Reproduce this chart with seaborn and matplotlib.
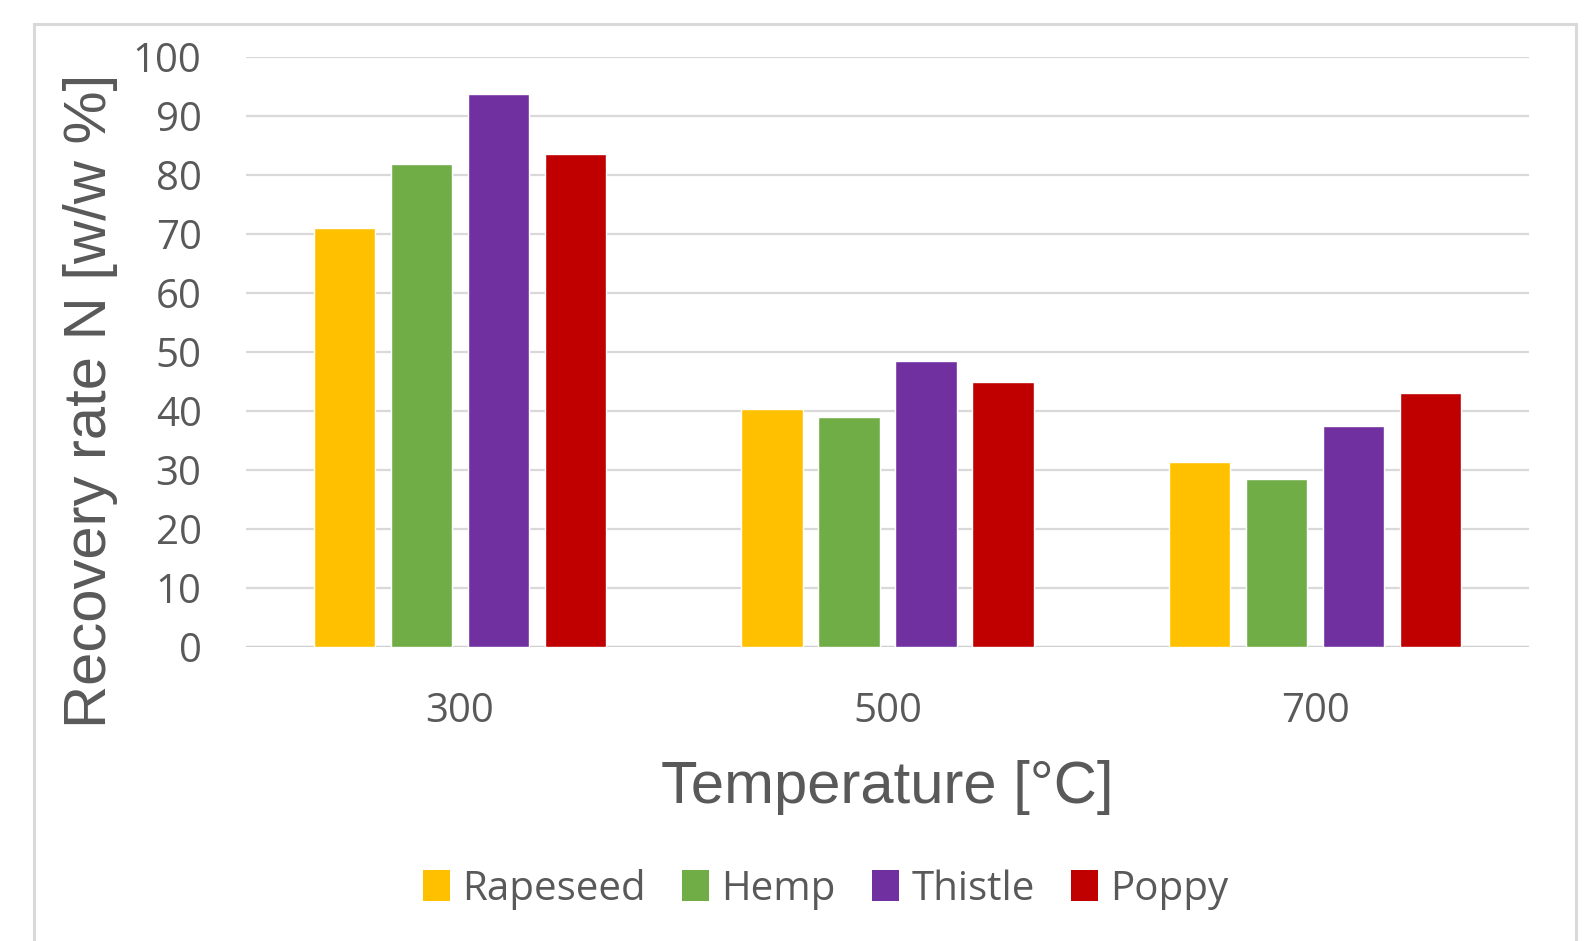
import seaborn as sns
import pandas as pd
import matplotlib
matplotlib.use("Agg")
from matplotlib import pyplot as plt
from matplotlib.patches import Rectangle


## DADOS

temperaturas = ['300', '500', '700']
sementes = ['Rapeseed', 'Hemp', 'Thistle', 'Poppy']
cores = ['#FFC000', '#70AD47', '#7030A0', '#C00000']

rapeseed = [71.0, 40.3, 31.3]
hemp = [81.8, 38.9, 28.5]
thistle = [93.7, 48.5, 37.4]
poppy = [83.6, 45.0, 43.0]

valores = [rapeseed, hemp, thistle, poppy]

df = pd.DataFrame({
    'Temperature': [t for s in sementes for t in temperaturas],
    'Seed': [s for s in sementes for t in temperaturas],
    'Recovery': [v for serie in valores for v in serie],
})


## GRAFICO

sns.set_style('white')
plt.rcParams['font.family'] = ['Open Sans', 'DejaVu Sans']

cinza = '#595959'
grade = '#d9d9d9'

fig = plt.figure(figsize=(15.94, 9.41), dpi=100)
ax = fig.add_axes([246/1594, 1-647/941, (1529-246)/1594, 590/941])

sns.barplot(data=df, x='Temperature', y='Recovery', hue='Seed',
            order=temperaturas, hue_order=sementes, palette=cores,
            saturation=1, width=0.72, gap=0.2, ax=ax, legend=False, zorder=3)

ax.set_ylim(0, 100)
ax.set_xlim(-0.5, 2.5)
ax.set_yticks(range(0, 101, 10))
ax.yaxis.grid(True, color=grade, linewidth=1.6, zorder=0)
ax.xaxis.grid(False)
ax.axhline(0, color='#d0d0d0', linewidth=2.4, zorder=2)
for sp in ax.spines.values():
    sp.set_visible(False)

ax.tick_params(axis='both', length=0, pad=32, labelsize=29, labelcolor=cinza)

ax.set_xlabel('Temperature [°C]', fontsize=43, color=cinza,
              family=['Liberation Sans', 'DejaVu Sans'])
ax.xaxis.set_label_coords(0.5, -0.192)
ax.set_ylabel('Recovery rate N [w/w %]', fontsize=43, color=cinza,
              family=['Liberation Sans Narrow', 'Liberation Sans', 'DejaVu Sans'])
ax.yaxis.set_label_coords(-0.100, 0.417)

# legenda
handles = [Rectangle((0, 0), 1, 1, facecolor=c, edgecolor='none') for c in cores]
fig.legend(handles, sementes, loc='center', bbox_to_anchor=(0.518, 0.055),
           ncol=4, frameon=False, fontsize=29, labelcolor=cinza,
           handlelength=0.67, handleheight=0.8, handletextpad=0.3,
           columnspacing=0.9)

# moldura
fig.patches.append(Rectangle((34/1594, -0.05), (1576-34)/1594, 1.05 - 24/941,
                             transform=fig.transFigure, fill=False,
                             edgecolor=grade, linewidth=2.2))

plt.savefig('out.png', dpi=100)
